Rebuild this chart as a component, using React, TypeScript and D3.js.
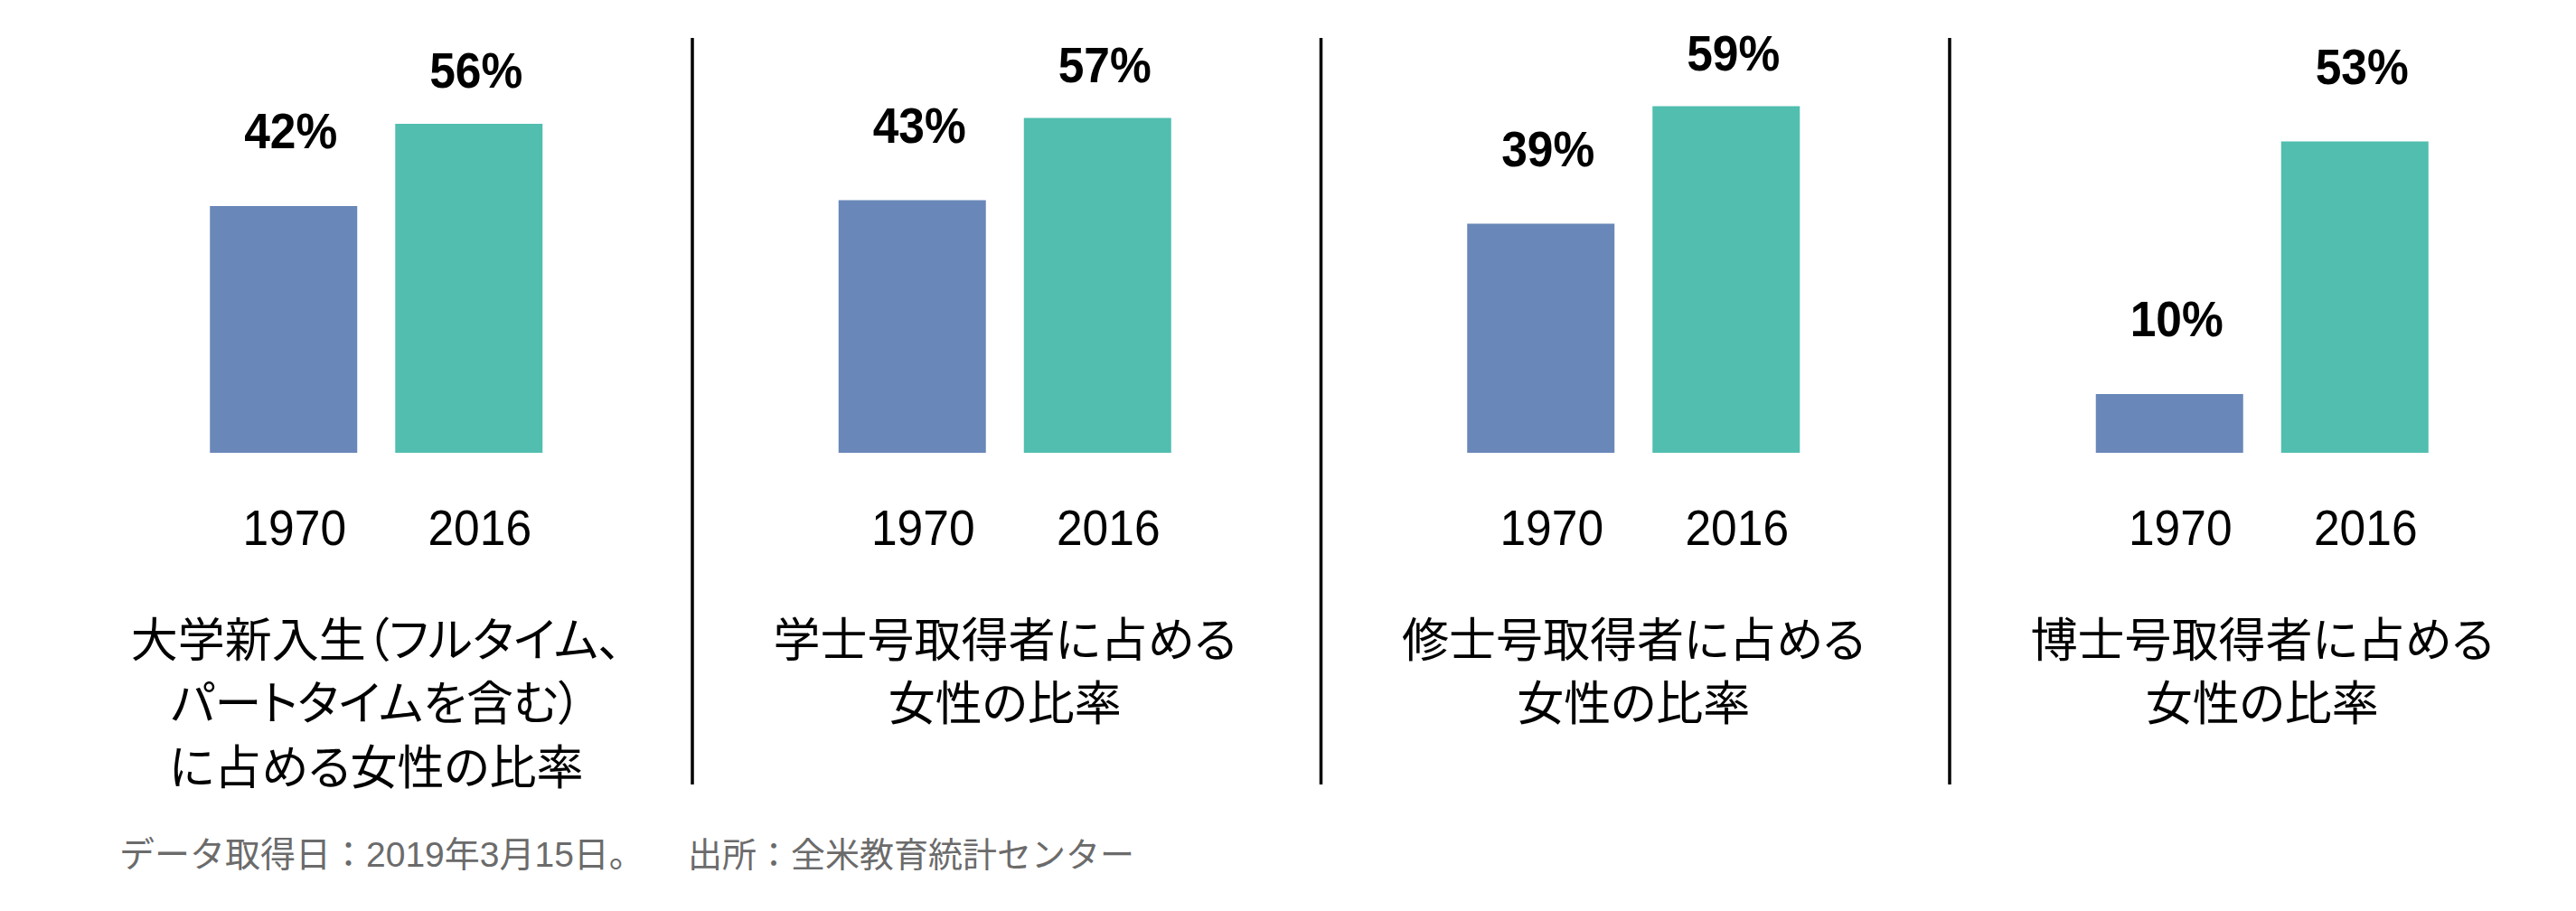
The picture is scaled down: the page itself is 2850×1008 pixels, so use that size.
import React from "react";
import * as d3 from "d3";

const years = ["1970", "2016"];
const panelKeys = ["freshmen", "bachelor", "master", "doctor"];
const values1970 = [42, 43, 39, 10];
const values2016 = [56, 57, 59, 53];
const titles = [
  ["大学新入生（フルタイム、", "パートタイムを含む）", "に占める女性の比率"],
  ["学士号取得者に占める", "女性の比率"],
  ["修士号取得者に占める", "女性の比率"],
  ["博士号取得者に占める", "女性の比率"],
];
const footerDate = "データ取得日：2019年3月15日。";
const footerSource = "出所：全米教育統計センター";

const W = 2850;
const H = 1008;
const colors: Record<string, string> = { "1970": "#6987B8", "2016": "#51BEAF" };

export default function App() {
  const panelScale = d3.scaleBand<string>().domain(panelKeys).range([68.5, 2850.5]).padding(0);
  const y = d3.scaleLinear().domain([0, 100]).range([501, -149]);
  const latin = "'Liberation Sans', Arial, Helvetica, sans-serif";
  const cjk = "'Noto Sans CJK JP', 'Noto Sans', sans-serif";
  const footerFont = "'Liberation Sans', 'Noto Sans CJK JP', sans-serif";
  const sx = 0.92;

  return (
    <svg
      width={W}
      height={H}
      viewBox={`0 0 ${W} ${H}`}
      style={{ position: "absolute", left: 0, top: 0, background: "#fff" }}
    >
      <rect x={0} y={0} width={W} height={H} fill="#fff" />
      {panelKeys.map((key, i) => {
        const p0 = panelScale(key)!;
        const center = p0 + panelScale.bandwidth() / 2;
        const inner = d3
          .scaleBand<string>()
          .domain(years)
          .range([center - 184, center + 184])
          .paddingInner(0.205)
          .paddingOuter(0);
        const vals = [values1970[i], values2016[i]];
        return (
          <g key={key}>
            {years.map((yr, j) => {
              const v = vals[j];
              const bx = inner(yr)!;
              const bw = inner.bandwidth();
              const top = y(v);
              const gap = v >= 55 ? 40 : 64;
              return (
                <g key={yr}>
                  <rect x={bx} y={top} width={bw} height={y(0) - top} fill={colors[yr]} />
                  <text
                    transform={`translate(${bx + bw / 2 + 8},${top - gap}) scale(${sx},1)`}
                    textAnchor="middle"
                    fontFamily={latin}
                    fontWeight="bold"
                    fontSize={56}
                    fill="#000"
                  >
                    {`${v}%`}
                  </text>
                  <text
                    transform={`translate(${bx + bw / 2 + 12},603) scale(${sx},1)`}
                    textAnchor="middle"
                    fontFamily={latin}
                    fontSize={56}
                    fill="#000"
                  >
                    {yr}
                  </text>
                </g>
              );
            })}
            {titles[i].map((line, k) => (
              <text
                key={k}
                x={center}
                y={704 + k * 70.5}
                textAnchor="middle"
                dominantBaseline="central"
                fontFamily={cjk}
                fontSize={52}
                fill="#000"
                style={{ fontFeatureSettings: '"palt"' }}
              >
                {line}
              </text>
            ))}
            {i < panelKeys.length - 1 && (
              <line
                x1={p0 + panelScale.bandwidth() + 2}
                x2={p0 + panelScale.bandwidth() + 2}
                y1={42}
                y2={868}
                stroke="#000"
                strokeWidth={3.5}
              />
            )}
          </g>
        );
      })}
      <text
        x={132}
        y={945.5}
        dominantBaseline="central"
        fontFamily={footerFont}
        fontSize={39}
        fill="#6b6b6b"
      >
        {footerDate}
      </text>
      <text
        x={761}
        y={945.5}
        dominantBaseline="central"
        fontFamily={footerFont}
        fontSize={38}
        fill="#6b6b6b"
      >
        {footerSource}
      </text>
    </svg>
  );
}
